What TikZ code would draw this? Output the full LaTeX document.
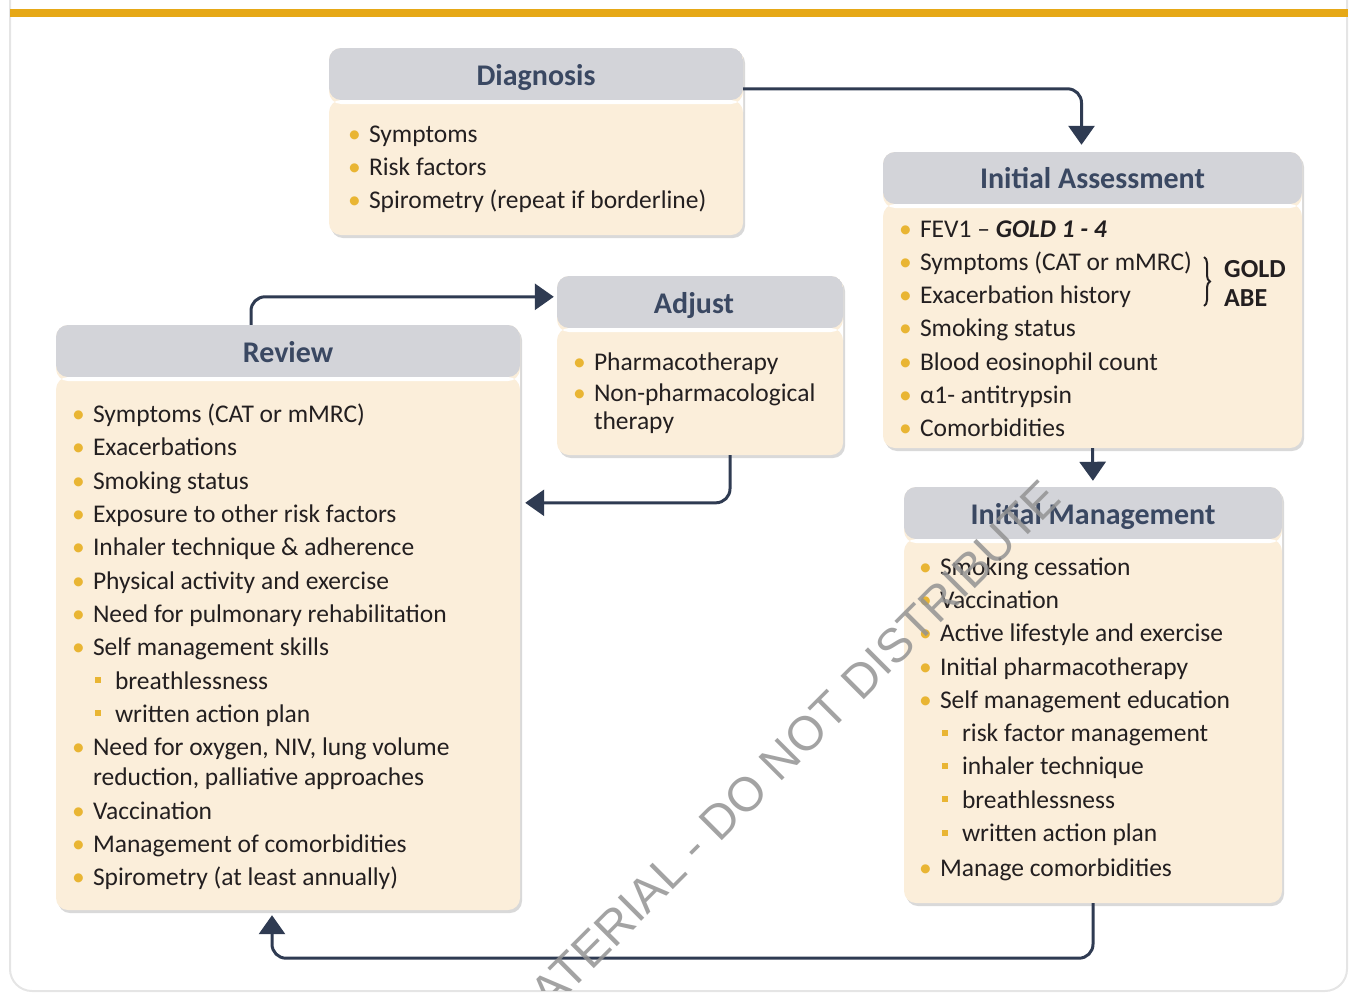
\documentclass[tikz,border=0pt]{standalone}
\usepackage{fontspec}
\setmainfont{Carlito}
\newfontfamily\wmfont{Liberation Sans}
\usetikzlibrary{arrows.meta,calc,shadows,decorations.pathreplacing}

\definecolor{headgray}{HTML}{D3D4D9}
\definecolor{cream}{HTML}{FBEEDA}
\definecolor{dotc}{HTML}{E9B533}
\definecolor{titlec}{HTML}{3A4862}
\definecolor{arrowc}{HTML}{2F3B52}
\definecolor{goldbar}{HTML}{E6A817}
\definecolor{txtc}{HTML}{231F20}

\newcommand{\bu}{\makebox[20pt][l]{\hspace*{-1pt}\textcolor{dotc}{•}}}
\newcommand{\sbu}{\hspace*{22pt}\makebox[20pt][l]{\textcolor{dotc}{\rule[6pt]{6pt}{6pt}}}}
\newcommand{\cont}{\hspace*{20pt}}

\begin{document}
\begin{tikzpicture}[x=1pt,y=-1pt,>={Triangle[width=26pt,length=19pt]}]

  \tikzstyle{panel}=[rectangle,fill=cream,rounded corners=12pt,inner sep=0,
    drop shadow={shadow xshift=2pt,shadow yshift=-3pt,opacity=.3},
    path picture={
      \fill[headgray] (path picture bounding box.north west)
        rectangle ([yshift=-52pt]path picture bounding box.north east);
      \fill[white] ([yshift=-52pt]path picture bounding box.north west)
        rectangle ([yshift=-56pt]path picture bounding box.north east);}]
  \tikzstyle{title}=[font=\fontsize{30}{36}\selectfont\bfseries,text=titlec,
    inner sep=0,anchor=base]
  % lists are placed by the baseline of their last line
  \tikzstyle{list}=[font=\fontsize{25.5}{33.3}\selectfont,text=txtc,
    align=left,inner sep=0,anchor=base west]
  \tikzstyle{flow}=[->,draw=arrowc,line width=3pt,rounded corners=14pt]

  \useasboundingbox (0,0) rectangle (1351,993);

  % card and top bar
  \draw[gray!20,line width=2pt,rounded corners=22pt]
    (10,0) -- (10,991) -- (1347,991) -- (1347,0);
  \fill[goldbar] (10,9) rectangle (1348,17);

  % boxes
  \node[panel,minimum width=414pt,minimum height=187pt] (dg) at (536,141.5) {};
  \node[panel,minimum width=419pt,minimum height=296pt] (ia) at (1092.5,300) {};
  \node[panel,minimum width=286pt,minimum height=179pt] (ad) at (700,365.5) {};
  \node[panel,minimum width=464pt,minimum height=585pt] (rv) at (288,617.5) {};
  \node[panel,minimum width=378pt,minimum height=416pt] (im) at (1093,695) {};

  \node[title] (dg-t) at ($(dg.north)+(0,38)$) {Diagnosis};
  \node[title] (ia-t) at ($(ia.north)+(0,37)$) {Initial Assessment};
  \node[title] (ad-t) at ($(ad.north)+(-6,38)$) {Adjust};
  \node[title] (rv-t) at ($(rv.north)+(0,38)$) {Review};
  \node[title] (im-t) at ($(im.north)+(0,38)$) {Initial Management};

  \node[list] (dg-l) at ($(dg.north west)+(20,161)$) {%
    \bu Symptoms\\
    \bu Risk factors\\
    \bu Spirometry (repeat if borderline)};

  \node[list] (ia-l) at ($(ia.north west)+(17,285)$) {%
    \bu FEV1 -- \textbf{\textit{GOLD 1 - 4}}\\
    \bu Symptoms (CAT or mMRC)\\
    \bu Exacerbation history\\
    \bu Smoking status\\
    \bu Blood eosinophil count\\
    \bu α1- antitrypsin\\
    \bu Comorbidities};
  \draw[txtc,line width=2pt,decorate,decoration={brace,amplitude=6pt}]
    (1204,257) -- (1204,306);
  \node[list,font=\fontsize{26}{29}\selectfont\bfseries] (gold) at (1224,306)
    {GOLD\\ABE};

  \node[list,font=\fontsize{25.5}{31}\selectfont] (ad-l) at ($(ad.north west)+(17,154)$) {%
    \bu Pharmacotherapy\\
    \bu Non-pharmacological\\[-3pt]
    \cont therapy};

  \node[list] (rv-l) at ($(rv.north west)+(17,561)$) {%
    \bu Symptoms (CAT or mMRC)\\
    \bu Exacerbations\\
    \bu Smoking status\\
    \bu Exposure to other risk factors\\
    \bu Inhaler technique \& adherence\\
    \bu Physical activity and exercise\\
    \bu Need for pulmonary rehabilitation\\
    \bu Self management skills\\
    \sbu breathlessness\\
    \sbu written action plan\\
    \bu Need for oxygen, NIV, lung volume\\[-3pt]
    \cont reduction, palliative approaches\\
    \bu Vaccination\\
    \bu Management of comorbidities\\
    \bu Spirometry (at least annually)};

  \node[list] (im-l) at ($(im.north west)+(16,390)$) {%
    \bu Smoking cessation\\
    \bu Vaccination\\
    \bu Active lifestyle and exercise\\
    \bu Initial pharmacotherapy\\
    \bu Self management education\\
    \sbu risk factor management\\
    \sbu inhaler technique\\
    \sbu breathlessness\\
    \sbu written action plan\\[2pt]
    \bu Manage comorbidities};

  % the cycle
  \draw[flow,shorten >=7pt] ($(dg.north east)+(0,41)$) -| ([xshift=-11pt]ia.north);
  \draw[flow,shorten >=6pt] (ia.south) -- (im.north);
  \draw[flow,shorten >=5pt] (im.south) -- ++(0,55) -| ([xshift=-16pt]rv.south);
  \draw[flow,shorten >=3pt] ([xshift=-37pt]rv.north) |- ($(ad.north west)+(0,21)$);
  \draw[flow,shorten >=5pt] ([xshift=30pt]ad.south) |- ($(rv.north east)+(0,178)$);

  % watermark
  \begin{scope}
    \clip (0,0) rectangle (1351,990);
    \node[rotate=45,text=gray!85,opacity=.85,
      font=\wmfont\fontsize{48}{48}\selectfont] (wm) at (795,745)
      {ATERIAL - DO NOT DISTRIBUTE};
  \end{scope}
\end{tikzpicture}
\end{document}
